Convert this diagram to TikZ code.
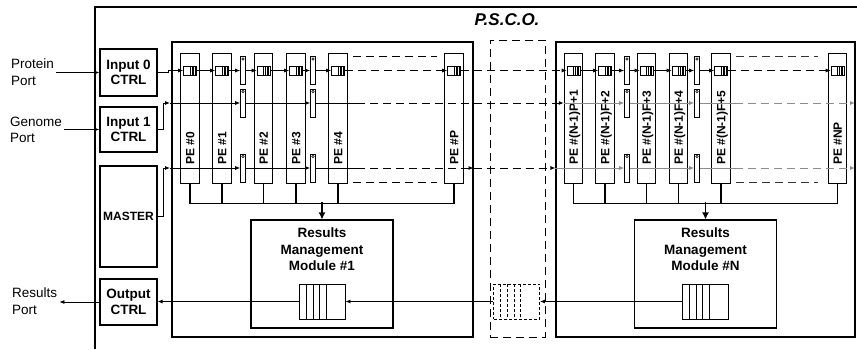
\documentclass[tikz,border=0pt]{standalone}
\usepackage{fontspec}
\setmainfont{Liberation Sans}
\usetikzlibrary{arrows.meta,positioning}

\begin{document}
\begin{tikzpicture}[x=1pt, y=-1pt,
  every node/.style={font=\fontsize{13.5}{16.5}\selectfont},
  ctrl/.style={draw, line width=1.1pt, minimum width=57pt, inner sep=0pt, align=center, font=\fontsize{13.5}{15.5}\selectfont\bfseries},
  port/.style={align=left, inner sep=2pt},
  cluster/.style={draw, line width=1.1pt, inner sep=0pt},
  pe/.style={draw, line width=1pt, minimum width=18.5pt, minimum height=130pt, inner sep=0pt},
  pelabel/.style={rotate=90, anchor=west, inner sep=0pt, text height=8.6pt, text depth=0pt, font=\fontsize{12}{14}\selectfont\bfseries},
  fifo/.style={draw, line width=0.6pt, fill=white, minimum width=13pt, minimum height=9pt, inner sep=0pt,
    path picture={\foreach \d in {1.6,3.2,4.8,6.4}
      \draw[line width=0.4pt] ([xshift=-\d pt]path picture bounding box.north east) -- ([xshift=-\d pt]path picture bounding box.south east);}},
  bigfifo/.style={draw, line width=0.9pt, fill=white, minimum width=46pt, minimum height=35pt, inner sep=0pt,
    path picture={\foreach \d in {7,14,20.5,27}
      \draw[line width=0.9pt, #1] ([xshift=\d pt]path picture bounding box.north west) -- ([xshift=\d pt]path picture bounding box.south west);}},
  bigfifo/.default=solid,
  reg/.style={draw, line width=0.6pt, fill=white, minimum width=5pt, minimum height=28pt, inner sep=0pt,
    path picture={\draw[line width=0.5pt] ([yshift=-2.5pt]path picture bounding box.north) circle (1.2pt);}},
  rmm/.style={draw, line width=1.1pt, minimum width=142pt, minimum height=108pt, inner sep=0pt},
  rmmtitle/.style={align=center, inner sep=0pt, font=\fontsize{13.5}{16.7}\selectfont\bfseries},
  link/.style={-{Latex[length=5pt,width=4pt]}, line width=0.8pt},
  gapline/.style={dash pattern=on 8pt off 5pt, line width=0.9pt},
  greyline/.style={black!45, line width=0.8pt},
  greylink/.style={greyline, -{Latex[length=5pt,width=4pt]}},
  bus/.style={line width=1.8pt},
  busarrow/.style={line width=1.8pt, -{Latex[length=7pt,width=7pt]}}]

\useasboundingbox (0,0) rectangle (857,349);

% outer frame and title
\draw[line width=1.1pt] (95,349) -- (95,7) -- (857,7);
\node[font=\fontsize{17}{20}\selectfont\bfseries\itshape] (title) at (507,20) {P.S.C.O.};

% controllers and ports
\node[ctrl, minimum height=47pt] (in0) at (128.5,72.5) {Input 0\\CTRL};
\node[ctrl, minimum height=45pt] (in1) at (128.5,129.5) {Input 1\\CTRL};
\node[ctrl, minimum height=101pt, font=\fontsize{12}{14}\selectfont\bfseries] (master) at (128.5,216.5) {MASTER};
\node[ctrl, minimum height=46pt] (outc) at (128.5,302) {Output\\CTRL};

\node[port, anchor=west] (prot) at (9,72) {Protein\\Port};
\node[port, anchor=west] (gen) at (8,130) {Genome\\Port};
\node[port, anchor=west] (res) at (10,301) {Results\\Port};

\draw[link] (prot.east |- in0.west) -- (in0.west);
\draw[link] (gen.east |- in1.west) -- (in1.west);
\draw[link] (outc.west) -- (res.east |- outc.west);

% clusters
\node[cluster, minimum width=301pt, minimum height=295pt] (cl1) at (322.5,189.5) {};
\node[cluster, minimum width=299pt, minimum height=295pt] (clN) at (705.5,189.5) {};
\node[draw, line width=1pt, dash pattern=on 8pt off 5pt, minimum width=55pt, minimum height=297pt, inner sep=0pt] (gap) at (517.5,188.5) {};

% processing elements
\foreach \x/\n in {190/0, 222/1, 263.5/2, 296/3, 338/4, 454/P} {
  \node[pe] (pe\n) at (\x,118) {};
  \node[pelabel] (lab\n) at (\x,165) {PE \#\n};
  \node[fifo] (q\n) at (\x,70.5) {};
}
\foreach \x/\n/\t in {573.5/r1/{(N-1)P+1}, 605/r2/{(N-1)F+2}, 646.5/r3/{(N-1)F+3}, 678.5/r4/{(N-1)F+4}, 721/r5/{(N-1)F+5}, 837.5/rNP/{NP}} {
  \node[pe] (pe\n) at (\x,118) {};
  \node[pelabel] (lab\n) at (\x,165) {PE \#\t};
  \node[fifo] (q\n) at (\x,70.5) {};
}

% registers between PEs
\foreach \c/\x in {1/243, 2/313, 3/627, 4/697}
  \foreach \r/\y in {a/70.5, b/103, c/168}
    \node[reg] (reg\c\r) at (\x,\y) {};

% protein chain
\draw[link] (in0.east) -- ++(11,0) |- (q0.west);
\draw[link] (q0.east) -- (q1.west);
\draw[link] (q1.east) -- (reg1a.west);
\draw[link] (reg1a.east) -- (q2.west);
\draw[link] (q2.east) -- (q3.west);
\draw[link] (q3.east) -- (reg2a.west);
\draw[link] (reg2a.east) -- (q4.west);
\draw[link, gapline] (q4.east) -- (qP.west);
\draw[link, gapline] (qP.east) -- (qr1.west);
\draw[link] (qr1.east) -- (qr2.west);
\draw[link] (qr2.east) -- (reg3a.west);
\draw[link] (reg3a.east) -- (qr3.west);
\draw[link] (qr3.east) -- (qr4.west);
\draw[link] (qr4.east) -- (reg4a.west);
\draw[link] (reg4a.east) -- (qr5.west);
\draw[link, gapline] (qr5.east) -- (qrNP.west);

% genome line
\draw[link] (in1.east) -- ++(6,0) |- (170,103) coordinate (g0);
\draw[link] (g0) -- (reg1b.west);
\draw[link] (reg2b.east -| reg1b.east) -- (reg2b.west);
\draw (reg2b.east) -- (357,103) coordinate (g1);
\draw[link, gapline] (g1) -- (per1.west |- g1);
\draw[greylink] (per1.west |- g1) -- (reg3b.west);
\draw[greylink] (reg3b.east) -- (reg4b.west);
\draw[greyline] (reg4b.east) -- (735,103) coordinate (g2);
\draw[greylink, gapline] (g2) -- (855,103);

% master line
\draw[link] (master.east) -- ++(6,0) |- (170,168) coordinate (m0);
\draw[link] (m0) -- (reg1c.west);
\draw[link] (reg1c.east) -- (reg2c.west);
\draw (reg2c.east) -- (357,168) coordinate (m1);
\draw[link, gapline] (m1) -- (cl1.east |- m1);
\draw[link, gapline] (cl1.east |- m1) -- (clN.west |- m1);
\draw[greylink] (clN.west |- m1) -- (reg3c.west);
\draw[greylink] (reg3c.east) -- (reg4c.west);
\draw[greyline] (reg4c.east) -- (735,168) coordinate (m2);
\draw[greylink, gapline] (m2) -- (855,168);

% elided PEs
\draw[gapline] (353,56) -- (437,56);
\draw[gapline] (353,182) -- (437,182);
\draw[gapline, black!80] (736,56) -- (818,56);
\draw[gapline, black!80] (736,182) -- (818,182);

% results management
\node[rmm] (rm1) at (322,274) {};
\node[rmm] (rmN) at (705.5,274) {};
\node[rmmtitle, below=8pt of rm1.north] (rt1) {Results\\Management\\Module \#1};
\node[rmmtitle, below=8pt of rmN.north] (rtN) {Results\\Management\\Module \#N};
\node[bigfifo] (rq1) at (322,301.5) {};
\node[bigfifo] (rqN) at (705,301.5) {};
\node[bigfifo={dash pattern=on 3pt off 2pt}, dash pattern=on 3pt off 2pt] (gq) at (516.5,301.5) {};

% result buses
\draw[bus] (pe0.south) -- ++(0,20) -| (peP.south);
\foreach \n in {1,2,3,4} \draw[bus] (pe\n.south) -- ++(0,20);
\draw[busarrow] ([yshift=17pt]rm1.north) -- (rm1.north);
\draw[bus] (per1.south) -- ++(0,20) -| (perNP.south);
\foreach \n in {r2,r3,r4,r5} \draw[bus] (pe\n.south) -- ++(0,20);
\draw[busarrow] ([yshift=17pt]rmN.north) -- (rmN.north);

% results path
\draw[link] (rqN.west) -- (gq.east);
\draw[link] (gq.west) -- (rq1.east);
\draw[link] (rq1.west) -- (rq1.west -| outc.east);
\end{tikzpicture}
\end{document}
